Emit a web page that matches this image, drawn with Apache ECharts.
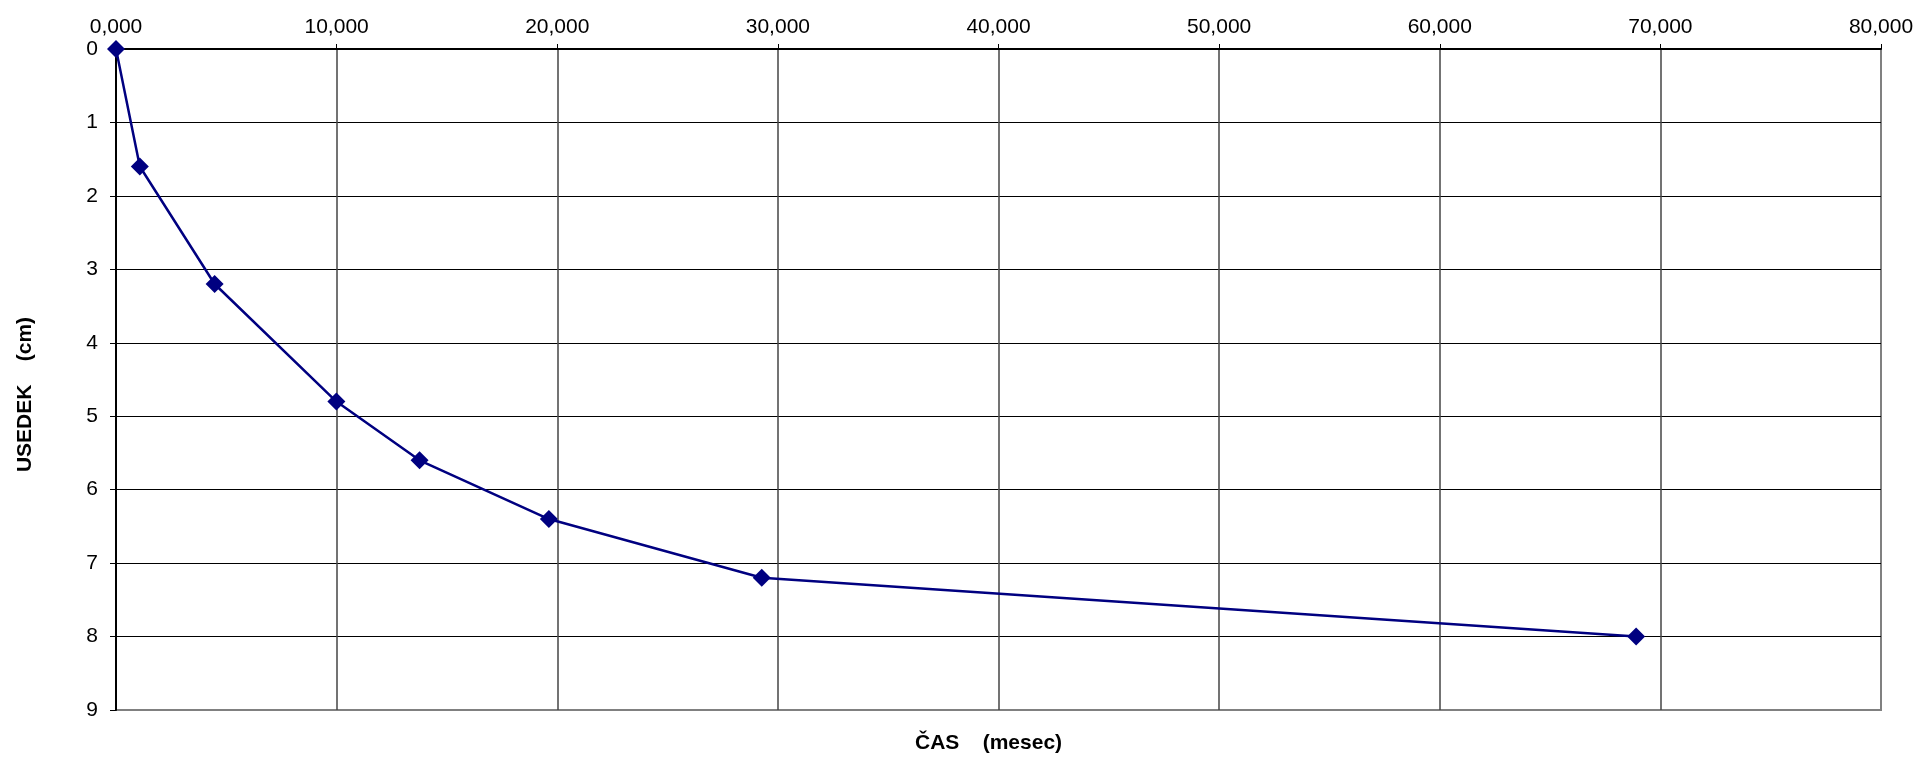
<!DOCTYPE html>
<html>
<head>
<meta charset="utf-8">
<script src="https://cdn.jsdelivr.net/npm/echarts@6/dist/echarts.min.js"></script>
<style>
html,body{margin:0;padding:0;background:#fff;}
#chart{width:1917px;height:757px;}
</style>
</head>
<body>
<div id="chart"></div>
<script>
// Data
const timeMonths = [0, 1.08, 4.47, 9.99, 13.76, 19.62, 29.27, 68.9];
const settlementCm = [0, 1.6, 3.2, 4.8, 5.6, 6.4, 7.2, 8.0];
const xTitle = 'ČAS    (mesec)';
const yTitle = 'USEDEK    (cm)';

const points = timeMonths.map((t, i) => [t, settlementCm[i]]);
const FONT = '"Liberation Sans", Arial, sans-serif';

const chart = echarts.init(document.getElementById('chart'), null, {renderer: 'canvas'});
chart.setOption({
  animation: false,
  backgroundColor: '#ffffff',
  grid: {
    left: 116, right: 36, top: 49, bottom: 47,
    show: true, borderColor: '#808080', borderWidth: 2, backgroundColor: 'transparent'
  },
  xAxis: {
    type: 'value',
    position: 'top',
    min: 0, max: 80, interval: 10,
    axisLine: {show: true, onZero: false, lineStyle: {color: '#000', width: 2}},
    axisTick: {show: true, inside: false, length: 5, lineStyle: {color: '#000', width: 1}},
    axisLabel: {
      color: '#000', fontFamily: FONT, fontSize: 21, margin: 11,
      formatter: v => v.toFixed(3).replace('.', ',')
    },
    splitLine: {show: true, showMinLine: false, showMaxLine: false, lineStyle: {color: '#444', width: 1.5}}
  },
  yAxis: {
    type: 'value',
    inverse: true,
    min: 0, max: 9, interval: 1,
    name: yTitle,
    nameLocation: 'middle',
    nameRotate: 90,
    nameGap: 80,
    nameTextStyle: {color: '#000', fontFamily: FONT, fontSize: 21, fontWeight: 'bold', padding: [0, 0, 0, -30]},
    axisLine: {show: true, onZero: false, lineStyle: {color: '#000', width: 2}},
    axisTick: {show: true, inside: false, length: 6, lineStyle: {color: '#000', width: 1}},
    axisLabel: {color: '#000', fontFamily: FONT, fontSize: 21, margin: 18},
    splitLine: {show: true, showMinLine: false, showMaxLine: false, lineStyle: {color: '#000', width: 1}}
  },
  graphic: [{
    type: 'text',
    left: 915, top: 733,
    style: {text: xTitle, fill: '#000', font: 'bold 21px ' + FONT}
  }],
  series: [{
    type: 'line',
    data: points,
    symbol: 'diamond',
    symbolSize: 18,
    showAllSymbol: true,
    lineStyle: {color: '#000080', width: 2.5},
    itemStyle: {color: '#000080', borderWidth: 0},
    z: 5
  }]
});
</script>
</body>
</html>
